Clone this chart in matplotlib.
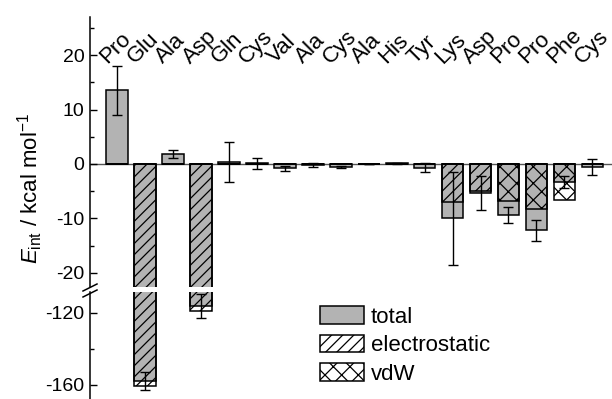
import matplotlib
matplotlib.use("Agg")
import matplotlib.pyplot as plt
from matplotlib.patches import Patch
from matplotlib.lines import Line2D
from matplotlib.ticker import MultipleLocator
import numpy as np

plt.rcParams['font.family'] = ['Liberation Sans', 'DejaVu Sans']
plt.rcParams['mathtext.fontset'] = 'custom'
plt.rcParams['mathtext.rm'] = 'Liberation Sans'
plt.rcParams['mathtext.it'] = 'Liberation Sans:italic'
plt.rcParams['axes.unicode_minus'] = False
plt.rcParams['hatch.linewidth'] = 0.9

residues = ["Pro", "Glu", "Ala", "Asp", "Gln", "Cys", "Val", "Ala", "Cys",
            "Ala", "His", "Tyr", "Lys", "Asp", "Pro", "Pro", "Phe", "Cys"]
total = [13.5, -158.0, 1.85, -116.0, 0.4, 0.1, -0.8, -0.15, -0.5,
         0.0, 0.15, -0.7, -10.0, -5.4, -9.4, -12.2, -3.3, -0.5]
total_err = [4.5, 4.8, 0.8, 6.7, 3.7, 1.0, 0.5, 0.4, 0.2,
             0.0, 0.1, 0.8, 8.6, 3.1, 1.5, 2.0, 1.1, 1.5]
electrostatic = [0, -160.5, 0, -118.7, 0, 0, 0, 0, 0,
                 0, 0, 0, -6.9, -4.9, 0, 0, 0, 0]
vdw = [0, 0, 0, 0, 0, 0, 0, 0, 0,
       0, 0, 0, 0, 0, -6.8, -8.3, -6.6, 0]

x = np.arange(len(residues))
grey = "#b3b3b3"
w = 0.78

fig = plt.figure(figsize=(6.12, 3.99), dpi=100)
W, H = 612, 399
ax_top = fig.add_axes([90 / W, 1 - 287 / H, (W - 90) / W, (287 - 17) / H])
ax_bot = fig.add_axes([90 / W, 0, (W - 90) / W, (399 - 292) / H])

for ax in (ax_top, ax_bot):
    ax.bar(x, total, width=w, color=grey, edgecolor="black", linewidth=1.1, zorder=2)
    ax.bar(x, electrostatic, width=w, facecolor="none", edgecolor="black",
           hatch="///", linewidth=1.1, zorder=3)
    ax.bar(x, vdw, width=w, facecolor="none", edgecolor="black",
           hatch="xx", linewidth=1.1, zorder=3)
    ax.errorbar(x, total, yerr=total_err, fmt="none", ecolor="black",
                elinewidth=1.0, capsize=3.5, capthick=1.0, zorder=4)
    ax.axhline(0, color="#555555", linewidth=1.0, zorder=1)
    for s in ("top", "right", "bottom"):
        ax.spines[s].set_visible(False)
    ax.spines["left"].set_linewidth(1.1)
    ax.set_xlim(-0.96, 17.7)
    ax.set_xticks([])
    ax.tick_params(axis="y", which="major", direction="in", length=5, width=1.0,
                   labelsize=14, pad=4)
    ax.tick_params(axis="y", which="minor", direction="in", length=3, width=1.0)

ax_top.set_ylim(-22.6, 27)
ax_top.set_yticks([20, 10, 0, -10, -20])
ax_top.yaxis.set_minor_locator(MultipleLocator(5))
ax_bot.set_ylim(-168, -108.3)
ax_bot.set_yticks([-120, -160])
ax_bot.yaxis.set_minor_locator(MultipleLocator(20))

for i, name in enumerate(residues):
    ax_top.text(i - 0.36, 18.3, name, rotation=45, rotation_mode="anchor",
                ha="left", va="baseline", fontsize=16)

fig.text(30 / W, 1 - 188 / H, r"$\mathit{E}_{\mathrm{int}}$ / kcal mol$^{-1}$",
         rotation=90, ha="center", va="center", fontsize=16)

# break marks on the y axis
for dy in (0, 6):
    fig.add_artist(Line2D([83 / W, 97 / W], [1 - (291 + dy) / H, 1 - (284 + dy) / H],
                          color="black", linewidth=1.1))

handles = [Patch(facecolor=grey, edgecolor="black", linewidth=1.1),
           Patch(facecolor="white", edgecolor="black", hatch="///", linewidth=1.1),
           Patch(facecolor="white", edgecolor="black", hatch="xx", linewidth=1.1)]
fig.legend(handles, ["total", "electrostatic", "vdW"], loc="upper left",
           bbox_to_anchor=(320 / W, 1 - 306 / H), frameon=False, fontsize=16,
           handlelength=2.0, handleheight=0.85, handletextpad=0.3, labelspacing=0.32,
           borderaxespad=0, borderpad=0)

fig.savefig("out.png", dpi=100)
